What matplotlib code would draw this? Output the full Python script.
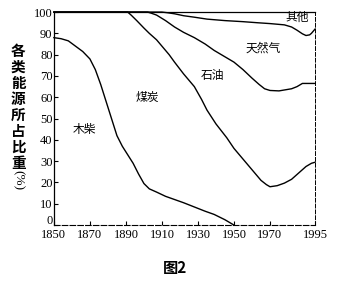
import matplotlib
matplotlib.use("Agg")
import matplotlib.pyplot as plt
import matplotlib.transforms as mtransforms

plt.rcParams['font.family'] = ['Noto Sans CJK SC', 'DejaVu Sans']

# Cumulative boundaries (%)
wood_years = [1850, 1854, 1858, 1862, 1866, 1870, 1873, 1876, 1879, 1882, 1885, 1888, 1891, 1894,
              1897, 1900, 1903, 1907, 1912, 1917, 1922, 1928, 1934, 1939, 1945, 1950]
wood_top = [88, 87.5, 86.5, 84, 81.5, 78, 73, 66, 58, 50, 42, 37, 33, 29,
            24, 19.5, 17, 15.5, 13.5, 12, 10.5, 8.5, 6.5, 5, 2.5, 0]

coal_years = [1850, 1891, 1893, 1896, 1900, 1903, 1907, 1910, 1914, 1917, 1922, 1928, 1932, 1935,
              1940, 1946, 1950, 1955, 1960, 1965, 1968, 1970, 1974, 1978, 1982, 1986, 1990, 1993, 1995]
coal_top = [100, 100, 98.5, 96, 92.5, 90, 87, 84, 80, 76.5, 71, 65, 59, 54,
            47.5, 41, 36, 31, 26, 21, 19, 18, 18.5, 19.7, 21.5, 24.5, 27.5, 29, 29.5]

oil_years = [1850, 1902, 1904, 1907, 1912, 1917, 1922, 1928, 1934, 1939, 1945, 1950, 1955, 1960,
             1964, 1967, 1970, 1975, 1982, 1985, 1988, 1995]
oil_top = [100, 100, 99.5, 98.6, 96, 93, 90.5, 88, 85, 82, 79, 76.5, 73, 69,
           66, 64, 63.2, 63, 64, 65, 66.5, 66.5]

gas_years = [1850, 1910, 1913, 1917, 1922, 1928, 1935, 1945, 1955, 1963, 1970, 1978, 1982, 1985,
             1988, 1990, 1992, 1993, 1995]
gas_top = [100, 100, 99.7, 99.2, 98.3, 97.6, 96.7, 96, 95.5, 95, 94.6, 94, 93, 91.5,
           89.8, 89, 89.3, 90, 92]

region_labels = ['木柴', '煤炭', '石油', '天然气', '其他']
label_pos = [(1867, 45), (1902, 60), (1938, 70), (1966, 83), (1985, 97.5)]

x_ticks = [1850, 1870, 1890, 1910, 1930, 1950, 1970, 1995]
y_ticks = list(range(0, 101, 10))

fig = plt.figure(figsize=(3.5, 2.81), dpi=100)
ax = fig.add_axes([0.154, 0.199, 0.746, 0.758])

for xs, ys in [(wood_years, wood_top), (coal_years, coal_top), (oil_years, oil_top), (gas_years, gas_top)]:
    ax.plot(xs, ys, color='black', lw=1.0, clip_on=False)

for lab, (x, y) in zip(region_labels, label_pos):
    ax.text(x, y, lab, fontsize=8.5, ha='center', va='center')

ax.set_xlim(1850, 1995)
ax.set_ylim(0, 100)
ax.set_xticks(x_ticks)
ax.set_yticks(y_ticks)
ax.tick_params(direction='in', length=3, width=0.8, labelsize=9, pad=1)
ax.tick_params(axis='x', pad=3)
for lab in ax.get_xticklabels() + ax.get_yticklabels():
    lab.set_fontfamily('Liberation Serif')

# nudge the "0" label up slightly, as in the reference
zero_lab = ax.get_yticklabels()[0]
zero_lab.set_transform(zero_lab.get_transform() +
                       mtransforms.ScaledTranslation(0, 4 / 72, fig.dpi_scale_trans))

for s in ['left', 'top']:
    ax.spines[s].set_linewidth(0.9)
ax.spines['right'].set_linestyle((0, (4, 2)))
ax.spines['right'].set_linewidth(0.7)
ax.spines['bottom'].set_linestyle((0, (5, 2)))
ax.spines['bottom'].set_linewidth(0.8)

fig.text(0.052, 0.62, '\n'.join('各类能源所占比重'), fontsize=10.5, ha='center', va='center',
         linespacing=1.0, fontweight='bold')
fig.text(0.052, 0.36, '(%)', fontsize=9.5, ha='center', va='center', rotation=-90, family='Liberation Serif')

fig.text(0.5, 0.045, '图2', fontsize=11, ha='center', va='center', fontweight='bold')

fig.savefig('out.png', dpi=100)
